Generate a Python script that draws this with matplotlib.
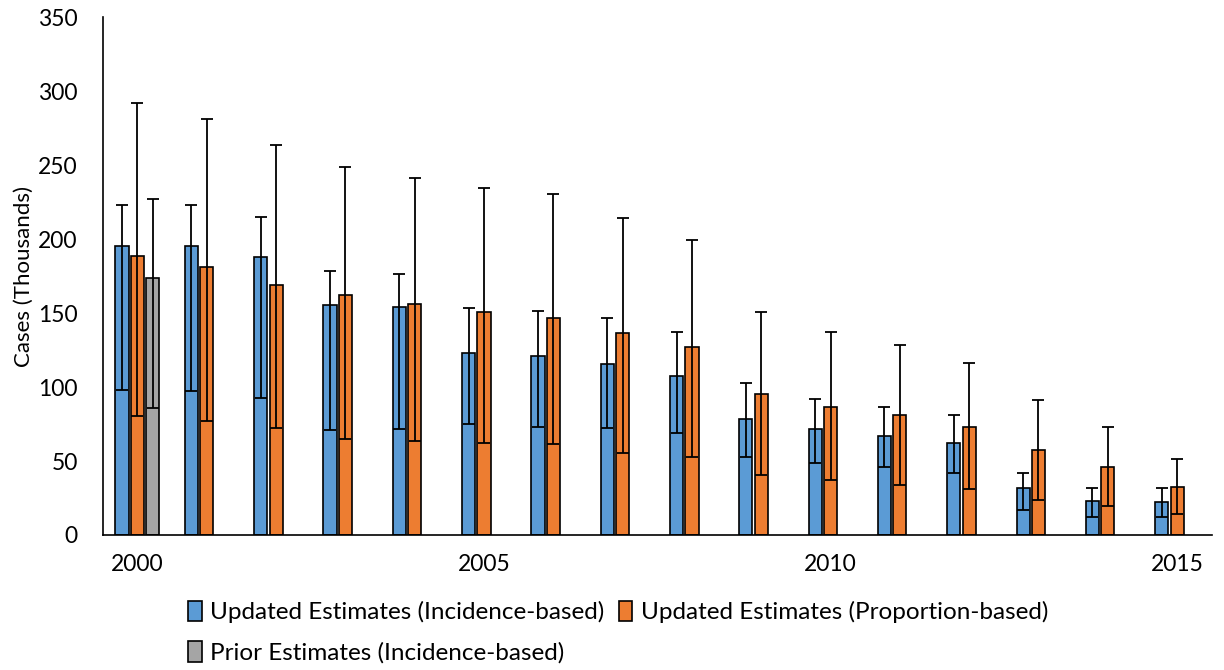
import numpy as np
import matplotlib
matplotlib.use('Agg')
import matplotlib.pyplot as plt

plt.rcParams['font.family'] = ['Lato', 'DejaVu Sans']

years = list(range(2000, 2016))
tick_years = [2000, 2005, 2010, 2015]

# updated estimates, incidence-based
inc = [195, 195, 187.6, 155.4, 153.8, 122.7, 121.2, 115.5, 107.4, 78.2, 71.6, 66.9, 62, 31.5, 22.7, 22.1]
inc_hi = [222.7, 222.7, 214.9, 178.6, 176.6, 153.2, 151.6, 146.8, 137.2, 102.9, 91.7, 86.7, 81.3, 41.9, 31.5, 31.5]
inc_lo = [98, 97, 92.3, 70.7, 71.6, 74.8, 73.2, 72.5, 69.1, 52.5, 48.4, 46.2, 42.1, 17.1, 12.4, 12.4]

# updated estimates, proportion-based
prop = [188.5, 181, 169.2, 162, 156.3, 150.7, 146.8, 136.5, 126.8, 95.5, 86.7, 81.1, 73.2, 57.2, 46.2, 32.2]
prop_hi = [291.7, 281.3, 263.7, 248.4, 241.2, 234.7, 230.2, 214, 199.5, 150.9, 137.2, 128.6, 116.4, 91, 73.2, 51.6]
prop_lo = [80.4, 77.3, 72.3, 65, 63.7, 62, 61.3, 55.6, 52.5, 40.5, 37.2, 34, 30.9, 23.6, 19.6, 14]

# prior estimates (2000 only)
prior_years = [2000]
prior = [173.9]
prior_hi = [226.8]
prior_lo = [86]


def plot_series(ax, x, vals, lo, hi, color, label):
    vals = np.array(vals)
    yerr = [vals - np.array(lo), np.array(hi) - vals]
    return ax.bar(x, vals, width=0.19, color=color, edgecolor='black', linewidth=1.2,
                  label=label, yerr=yerr, zorder=2,
                  error_kw=dict(ecolor='black', elinewidth=1.3, capsize=4, capthick=1.3))


fig = plt.figure(figsize=(12.24, 6.7), dpi=100)
ax = fig.add_axes([0.084, 0.2015, 0.906, 0.773])

step = 0.222
x = np.array(years)
b1 = plot_series(ax, x - step, inc, inc_lo, inc_hi, '#5B9BD5', 'Updated Estimates (Incidence-based)')
b2 = plot_series(ax, x, prop, prop_lo, prop_hi, '#ED7D31', 'Updated Estimates (Proportion-based)')
b3 = plot_series(ax, np.array(prior_years) + step, prior, prior_lo, prior_hi, '#A5A5A5',
                 'Prior Estimates (Incidence-based)')

ax.set_xlim(1999.5, 2015.5)
ax.set_ylim(0, 350)
ax.set_yticks(np.arange(0, 351, 50))
ax.set_xticks(tick_years)
ax.tick_params(length=0, labelsize=16.5)
ax.tick_params(axis='y', pad=18)
ax.tick_params(axis='x', pad=14)
for s in ['top', 'right']:
    ax.spines[s].set_visible(False)
for s in ['left', 'bottom']:
    ax.spines[s].set_linewidth(1.2)
ax.set_ylabel('Cases (Thousands)', fontsize=16, labelpad=3)

# legend fills column-wise, so order handles to get two per row
handles = [b1, b3, b2]
labels = [h.get_label() for h in handles]
fig.legend(handles, labels, loc='upper center', bbox_to_anchor=(0.505, 0.118), ncol=2,
           frameon=False, fontsize=17.5, handlelength=0.55, handleheight=0.9,
           handletextpad=0.35, columnspacing=0.6, labelspacing=0.75, borderaxespad=0)

fig.savefig('out.png', dpi=100)
